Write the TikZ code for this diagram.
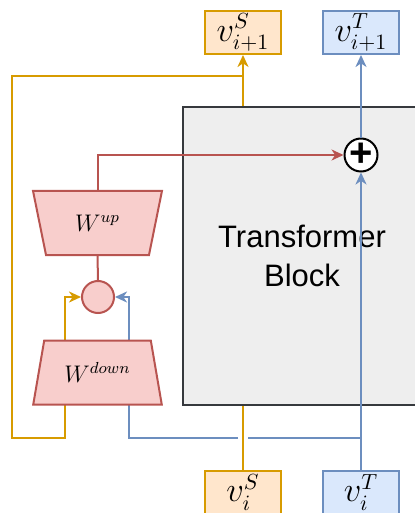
\documentclass[tikz,border=0pt]{standalone}
\usepackage{fontspec}
\newfontfamily\blockfont{Liberation Sans}
\usetikzlibrary{arrows.meta,positioning,calc,shapes.geometric}

\definecolor{srcline}{HTML}{D79B00}
\definecolor{srcfill}{HTML}{FFE6CC}
\definecolor{tgtline}{HTML}{6C8EBF}
\definecolor{tgtfill}{HTML}{DAE8FC}
\definecolor{adline}{HTML}{B85450}
\definecolor{adfill}{HTML}{F8CECC}
\definecolor{blkline}{HTML}{36393D}
\definecolor{blkfill}{HTML}{EEEEEE}

\begin{document}
\begin{tikzpicture}[
  x=0.5pt, y=-0.5pt,
  >={Stealth[length=6pt, width=5.5pt, inset=1.8pt]},
  vec/.style={draw, line width=1pt, inner sep=0pt, minimum width=38pt, minimum height=21.5pt, font=\fontsize{16}{18}\selectfont},
  srcbox/.style={vec, draw=srcline, fill=srcfill},
  tgtbox/.style={vec, draw=tgtline, fill=tgtfill},
  tblock/.style={draw=blkline, fill=blkfill, line width=1.2pt, minimum width=119pt, minimum height=149pt, align=center, font=\blockfont\fontsize{15.5}{19.25}\selectfont},
  adapter/.style={trapezium, trapezium stretches=true, trapezium left angle=71, trapezium right angle=71, minimum width=64.5pt, minimum height=32pt, inner sep=0pt, draw=adline, fill=adfill, line width=1pt, font=\fontsize{12}{14}\selectfont},
  mixer/.style={circle, minimum size=16pt, inner sep=0pt, draw=adline, fill=adfill, line width=1pt},
  adder/.style={circle, minimum size=16pt, inner sep=0pt, draw=black, fill=white, line width=1pt, font=\blockfont\bfseries\fontsize{20}{20}\selectfont},
  sflow/.style={draw=srcline, line width=1pt},
  tflow/.style={draw=tgtline, line width=1pt},
  aflow/.style={draw=adline, line width=1pt},
]
\useasboundingbox (0,0) rectangle (414,513);

% ---- input and output vectors
\node[srcbox] (vS1) at (243,32.5) {$v^{S}_{i+1}$};
\node[tgtbox] (vT1) at (361,32.5) {$v^{T}_{i+1}$};
\node[srcbox] (vS0) at (243,492.5) {$v^{S}_{i}$};
\node[tgtbox] (vT0) at (361,492.5) {$v^{T}_{i}$};

% ---- source stream runs behind the block
\draw[sflow, ->] (vS0.north) -- (vS1.south);

% ---- transformer block and its residual add
\node[tblock] (blk) at (302,256) {Transformer\\Block};
\node[adder] (plus) at (361,155) {+};
\draw[tflow, ->] (vT0.north) -- (plus.south);
\draw[tflow, ->] (plus.north) -- (vT1.south);

% ---- adapter branch
\node[mixer] (mix) at (98,297) {};
\coordinate (sjoin) at (243,76);
\coordinate (sl) at (12,438);
\coordinate (sIn) at (65,297);
\coordinate (tjoin) at (361,438);
\coordinate (gapR) at (248,438);
\coordinate (gapL) at (238,438);
\coordinate (tIn) at (129,297);
\draw[sflow, ->] (sjoin) -| (sl) -| (sIn) -- (mix.west);
\draw[tflow] (tjoin) -- (gapR);
\draw[tflow, ->] (gapL) -| (tIn) -- (mix.east);

\node[adapter] (Wdown) at (97.5,372.5) {$W^{down}$};
\node[adapter, shape border rotate=180] (Wup) at (97.5,223) {$W^{up}$};
\draw[aflow] (mix.north) -- (Wup.south);
\draw[aflow, ->] (Wup.north) |- (plus.west);
\end{tikzpicture}
\end{document}
